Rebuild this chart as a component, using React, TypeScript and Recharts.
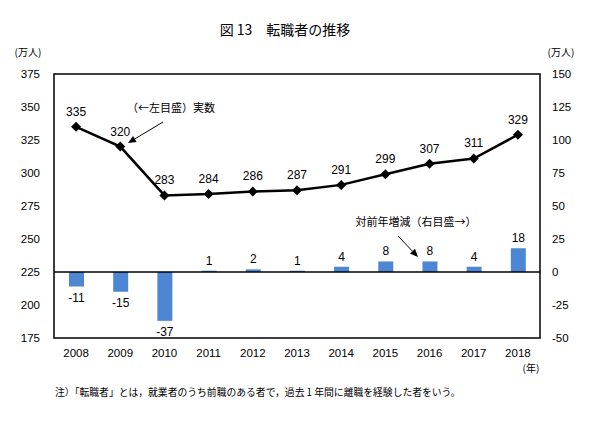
import {
  ComposedChart,
  Bar,
  Line,
  XAxis,
  YAxis,
  ReferenceArea,
  ReferenceLine,
  LabelList,
} from "recharts";

const years = ["2008", "2009", "2010", "2011", "2012", "2013", "2014", "2015", "2016", "2017", "2018"];
// 転職者数（万人）
const jobChangers = [335, 320, 283, 284, 286, 287, 291, 299, 307, 311, 329];
// 対前年増減（万人）
const yoyChange = [-11, -15, -37, 1, 2, 1, 4, 8, 8, 4, 18];
const leftTicks = [175, 200, 225, 250, 275, 300, 325, 350, 375];
const rightTicks = [-50, -25, 0, 25, 50, 75, 100, 125, 150];

const data = years.map((year, i) => ({
  year,
  total: jobChangers[i],
  change: yoyChange[i],
}));

const NUM_FONT = "'Liberation Sans', Arial, sans-serif";
const JP_FONT = "'Noto Sans CJK JP', sans-serif";
const BAR_COLOR = "#4d86d3";
const TICK_STYLE = { fontSize: 11.5, fill: "#000", fontFamily: NUM_FONT };

function Diamond(props: any) {
  const { cx, cy } = props;
  if (cx == null || cy == null) return null;
  const r = 5;
  return (
    <polygon
      points={`${cx},${cy - r} ${cx + r},${cy} ${cx},${cy + r} ${cx - r},${cy}`}
      fill="#000"
    />
  );
}

function BarLabel(props: any) {
  const x = Number(props.x);
  const y = Number(props.y);
  const w = Number(props.width);
  const h = Number(props.height);
  const value = Number(props.value);
  const top = Math.min(y, y + h);
  const bottom = Math.max(y, y + h);
  const ty = value < 0 ? bottom + 15 : top - 6;
  return (
    <text x={x + w / 2} y={ty} textAnchor="middle" fontSize={12} fontFamily={NUM_FONT} fill="#000">
      {value}
    </text>
  );
}

function Arrow({ x1, y1, x2, y2 }: { x1: number; y1: number; x2: number; y2: number }) {
  const dx = x2 - x1;
  const dy = y2 - y1;
  const len = Math.sqrt(dx * dx + dy * dy);
  const ux = dx / len;
  const uy = dy / len;
  const bx = x2 - ux * 8;
  const by = y2 - uy * 8;
  const px = -uy * 3.5;
  const py = ux * 3.5;
  return (
    <g>
      <line x1={x1} y1={y1} x2={bx} y2={by} stroke="#000" strokeWidth={1} />
      <polygon points={`${x2},${y2} ${bx + px},${by + py} ${bx - px},${by - py}`} fill="#000" />
    </g>
  );
}

export default function App() {
  return (
    <div style={{ position: "absolute", left: 0, top: 0, width: 600, height: 434, background: "#fff" }}>
      <ComposedChart
        width={600}
        height={434}
        data={data}
        margin={{ top: 74, right: 0, bottom: 66, left: 0 }}
      >
        <XAxis
          dataKey="year"
          xAxisId="x"
          axisLine={false}
          tickLine={false}
          height={30}
          tickMargin={5}
          tick={TICK_STYLE}
        />
        <YAxis
          yAxisId="left"
          domain={[175, 375]}
          ticks={leftTicks}
          width={54}
          axisLine={false}
          tickLine={false}
          tickMargin={8}
          tick={TICK_STYLE}
        />
        <YAxis
          yAxisId="right"
          orientation="right"
          domain={[-50, 150]}
          ticks={rightTicks}
          width={60}
          axisLine={false}
          tickLine={false}
          tickMargin={6}
          tick={TICK_STYLE}
        />
        <Bar
          dataKey="change"
          xAxisId="x"
          yAxisId="right"
          fill={BAR_COLOR}
          barSize={15}
          isAnimationActive={false}
        >
          <LabelList dataKey="change" content={<BarLabel />} />
        </Bar>
        <ReferenceLine xAxisId="x" yAxisId="right" y={0} stroke="#000" strokeWidth={1.5} />
        <Line
          dataKey="total"
          xAxisId="x"
          yAxisId="left"
          stroke="#000"
          strokeWidth={2.5}
          dot={<Diamond />}
          activeDot={false}
          isAnimationActive={false}
        >
          <LabelList
            dataKey="total"
            position="top"
            offset={11}
            style={{ fontSize: 12, fill: "#000", fontFamily: NUM_FONT }}
          />
        </Line>
        <ReferenceArea
          xAxisId="x"
          yAxisId="left"
          y1={175}
          y2={375}
          fill="none"
          fillOpacity={0}
          stroke="#000"
          strokeWidth={1.5}
        />
      </ComposedChart>

      <svg
        width={600}
        height={434}
        style={{ position: "absolute", left: 0, top: 0, pointerEvents: "none" }}
      >
        <text x={285} y={35} textAnchor="middle" fontSize={14} fontFamily={JP_FONT} fill="#000">
          図 13　転職者の推移
        </text>
        <text x={28} y={56} textAnchor="middle" fontSize={10} fontFamily={JP_FONT} fill="#000">
          (万人)
        </text>
        <text x={561} y={56} textAnchor="middle" fontSize={10} fontFamily={JP_FONT} fill="#000">
          (万人)
        </text>
        <text x={531} y={372} textAnchor="middle" fontSize={10} fontFamily={JP_FONT} fill="#000">
          (年)
        </text>
        <text x={171} y={112} textAnchor="middle" fontSize={11} fontFamily={JP_FONT} fill="#000">
          （←左目盛）実数
        </text>
        <Arrow x1={163} y1={122} x2={128} y2={143} />
        <text x={416} y={226} textAnchor="middle" fontSize={11} fontFamily={JP_FONT} fill="#000">
          対前年増減（右目盛→）
        </text>
        <Arrow x1={398} y1={236} x2={418} y2={257} />
        <text x={55} y={396} fontSize={9.8} fontFamily={JP_FONT} fill="#000">
          注）「転職者」とは，就業者のうち前職のある者で，過去 1 年間に離職を経験した者をいう。
        </text>
      </svg>
    </div>
  );
}
